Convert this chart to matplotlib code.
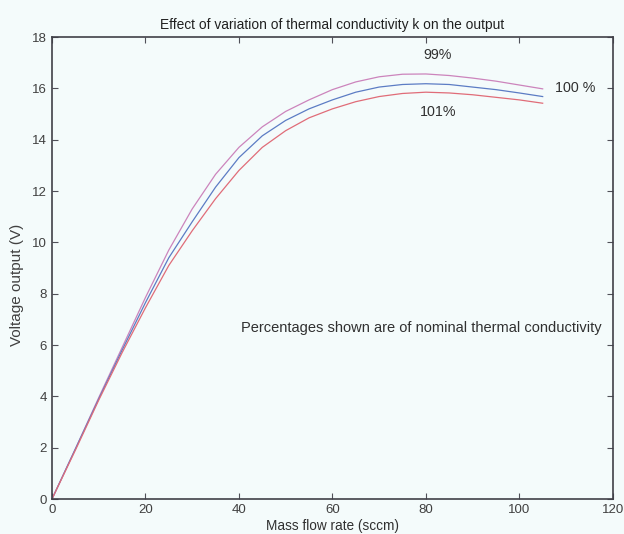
import matplotlib
matplotlib.use("Agg")
import matplotlib.pyplot as plt
import numpy as np

# Data
flow = [0, 5, 10, 15, 20, 25, 30, 35, 40, 45, 50, 55, 60, 65, 70, 75, 80, 85, 90, 95, 100, 105]
v_99 = [0, 1.95, 3.95, 5.9, 7.85, 9.7, 11.3, 12.65, 13.7, 14.5, 15.1, 15.55, 15.95, 16.25, 16.45, 16.55, 16.56, 16.5, 16.4, 16.28, 16.13, 15.98]
v_100 = [0, 1.95, 3.9, 5.8, 7.65, 9.4, 10.8, 12.15, 13.3, 14.15, 14.75, 15.2, 15.55, 15.85, 16.05, 16.15, 16.18, 16.15, 16.05, 15.95, 15.82, 15.68]
v_101 = [0, 1.9, 3.85, 5.7, 7.45, 9.1, 10.45, 11.7, 12.8, 13.7, 14.35, 14.85, 15.2, 15.48, 15.68, 15.8, 15.85, 15.82, 15.75, 15.65, 15.55, 15.42]
series_labels = ["99%", "100 %", "101%"]
xticks = [0, 20, 40, 60, 80, 100, 120]
yticks = [0, 2, 4, 6, 8, 10, 12, 14, 16, 18]

plt.rcParams['font.family'] = ['Liberation Sans', 'DejaVu Sans']

bg = '#f4fbfb'
fig = plt.figure(figsize=(6.24, 5.34), dpi=100, facecolor=bg)
ax = fig.add_axes([0.0833, 0.0655, 0.8987, 0.8652], facecolor=bg)

ax.plot(flow, v_99, color='#cc84bc', lw=0.9)
ax.plot(flow, v_100, color='#5c7cc4', lw=0.9)
ax.plot(flow, v_101, color='#e06c78', lw=0.9)

ax.set_xlim(0, 120)
ax.set_ylim(0, 18)
ax.set_xticks(xticks)
ax.set_yticks(yticks)
ax.tick_params(direction='in', top=True, right=True, length=4, width=0.8,
               colors='#505058', labelsize=9.5, labelcolor='#404040')
for s in ax.spines.values():
    s.set_color('#404048')
    s.set_linewidth(1.2)

ax.set_title("Effect of variation of thermal conductivity k on the output",
             fontsize=9.9, color='#202020', pad=6)
ax.set_xlabel("Mass flow rate (sccm)", fontsize=9.8, color='#303030', labelpad=2)
ax.set_ylabel("Voltage output (V)", fontsize=11, color='#404040')
ax.yaxis.set_label_coords(-0.05, 0.463)

ax.text(82.6, 17.28, series_labels[0], fontsize=10.3, color='#303030', ha='center', va='center')
ax.text(112.0, 16.0, series_labels[1], fontsize=10.3, color='#303030', ha='center', va='center')
ax.text(82.6, 15.06, series_labels[2], fontsize=10.3, color='#303030', ha='center', va='center')
ax.text(79, 6.65, "Percentages shown are of nominal thermal conductivity",
        fontsize=10.5, color='#303030', ha='center', va='center')

fig.savefig("out.png", dpi=100, facecolor=bg)
